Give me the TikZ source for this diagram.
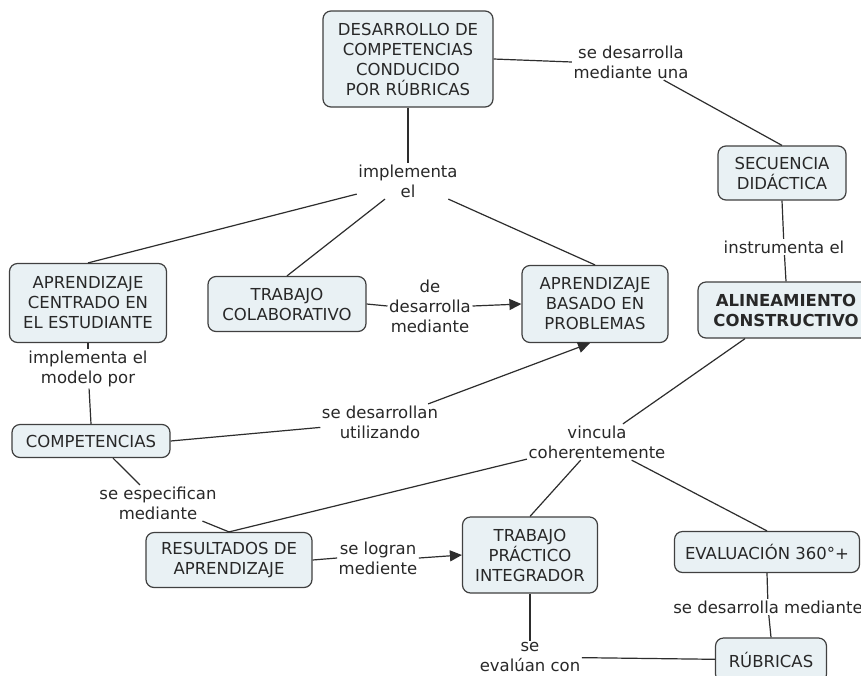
\documentclass[tikz,border=0pt]{standalone}
\usepackage{fontspec}
\setmainfont{DejaVu Sans}
\usetikzlibrary{arrows.meta,calc}
\definecolor{boxfill}{RGB}{233,241,244}
\definecolor{boxline}{RGB}{64,64,64}
\definecolor{connc}{RGB}{45,45,45}
\definecolor{txt}{RGB}{40,40,40}
\begin{document}
\begin{tikzpicture}[x=1pt,y=-1pt,
  concept/.style={draw=boxline, fill=boxfill, rounded corners=8pt, line width=1.2pt, align=center, inner sep=0pt, text=txt, font=\fontsize{16.5}{20}\selectfont},
  linklabel/.style={align=center, inner sep=1.5pt, text=txt, font=\fontsize{16.5}{20}\selectfont},
  conn/.style={draw=connc, line width=1.2pt},
  arr/.style={conn, -{Triangle[length=12pt,width=11pt]}}]
\fill[white] (0,0) rectangle (861,675);
\useasboundingbox (0,0) rectangle (861,675);
\clip (0,0) rectangle (861,675);

\node[concept, minimum width=170pt, minimum height=96pt] (des) at (408,59) {DESARROLLO DE\\COMPETENCIAS\\CONDUCIDO\\POR RÚBRICAS};
\node[linklabel] (l1) at (631,62) {se desarrolla\\mediante una};
\node[concept, minimum width=128pt, minimum height=54pt] (sec) at (782,173) {SECUENCIA\\DIDÁCTICA};
\node[linklabel] (l2) at (784,247) {instrumenta el};
\node[concept, minimum width=176pt, minimum height=56pt, font={\fontsize{16.5}{20}\selectfont\bfseries}] (alin) at (786,310) {ALINEAMIENTO\\CONSTRUCTIVO};
\node[linklabel] (l3) at (408,181) {implementa\\el};
\node[concept, minimum width=157pt, minimum height=79pt] (ace) at (88,303) {APRENDIZAJE\\CENTRADO EN\\EL ESTUDIANTE};
\node[concept, minimum width=158pt, minimum height=55pt] (tc) at (287,304) {TRABAJO\\COLABORATIVO};
\node[linklabel] (l4) at (430,306) {de\\desarrolla\\mediante};
\node[concept, minimum width=146pt, minimum height=77pt] (abp) at (595,304) {APRENDIZAJE\\BASADO EN\\PROBLEMAS};
\node[linklabel] (l5) at (88,369) {implementa el\\modelo por};
\node[concept, minimum width=158pt, minimum height=33pt] (comp) at (91,441) {COMPETENCIAS};
\node[linklabel] (l6) at (380,422) {se desarrollan\\utilizando};
\node[linklabel] (l7) at (158,503) {se especifican\\mediante};
\node[concept, minimum width=166pt, minimum height=55pt] (res) at (229,560) {RESULTADOS DE\\APRENDIZAJE};
\node[linklabel] (l8) at (378,558) {se logran\\mediente};
\node[concept, minimum width=135pt, minimum height=76pt] (tpi) at (530,555) {TRABAJO\\PRÁCTICO\\INTEGRADOR};
\node[linklabel] (l9) at (597,442) {vincula\\coherentemente};
\node[concept, minimum width=185pt, minimum height=41pt] (ev) at (767,552) {EVALUACIÓN 360°+};
\node[linklabel] (l10) at (768,607) {se desarrolla mediante};
\node[concept, minimum width=111pt, minimum height=44pt] (rub) at (771,660) {RÚBRICAS};
\node[linklabel] (l11) at (530,657) {se\\evalúan con};

\draw[conn] (des.east) -- (l1.west);
\draw[conn] (l1) -- (sec.north);
\draw[conn] (sec.south) -- (l2);
\draw[conn] (l2) -- (alin.north);
\draw[conn] (des.south) -- (l3);
\draw[conn] (l3) -- (ace.north);
\draw[conn] (l3) -- (tc.north);
\draw[conn] (l3) -- (abp.north);
\draw[conn] (tc.east) -- (l4.west);
\draw[arr] (l4.east) -- (abp.west);
\draw[conn] (ace.south) -- (l5);
\draw[conn] (l5) -- (comp.north);
\draw[conn] (comp.east) -- (l6);
\draw[arr] (l6) -- ($(abp.south)+(-5,0)$);
\draw[conn] ($(comp.south)+(22,0)$) -- (l7);
\draw[conn] (l7) -- (res.north);
\draw[conn] (alin) -- (l9);
\draw[conn] (res.north) -- (l9);
\draw[conn] (tpi.north) -- (l9);
\draw[conn] (ev.north) -- (l9);
\draw[conn] (res.east) -- (l8.west);
\draw[arr] (l8.east) -- (tpi.west);
\draw[conn] (tpi.south) -- (l11);
\draw[conn] (l11) -- (rub);
\draw[conn] (ev.south) -- (l10);
\draw[conn] (l10) -- (rub.north);
\end{tikzpicture}
\end{document}
